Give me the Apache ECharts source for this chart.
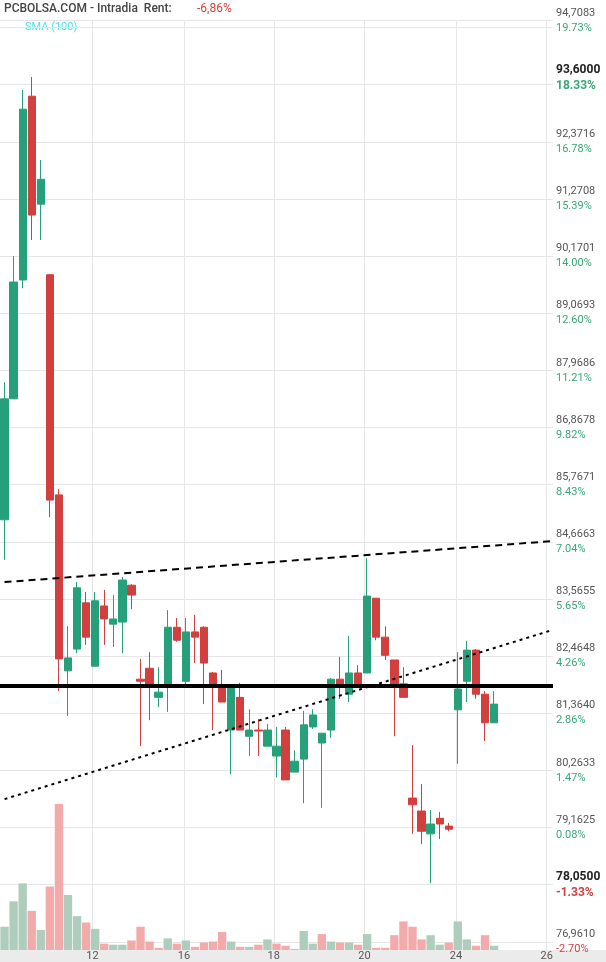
<!DOCTYPE html>
<html>
<head>
<meta charset="utf-8">
<script src="https://cdn.jsdelivr.net/npm/echarts@6/dist/echarts.min.js"></script>
<style>html,body{margin:0;padding:0;background:#fff}#main{width:606px;height:962px}</style>
</head>
<body>
<div id="main"></div>
<script>
// velas: apertura, cierre, minimo, maximo
var opens  = [85.09,87.42,89.71,93.25,91.17,89.81,85.57,82.18,82.60,83.49,82.27,83.43,83.08,83.12,83.83,82.02,82.23,81.67,81.91,83.02,81.98,82.93,83.02,82.14,81.87,81.04,81.67,80.92,81.04,80.73,80.54,81.04,80.23,80.48,81.10,80.79,81.04,82.02,81.73,82.14,82.14,83.58,82.83,82.39,81.93,79.73,79.48,79.04,79.34,79.19,81.43,81.98,82.58,81.73,81.18];
var closes = [87.42,89.67,93.00,90.96,91.65,85.47,82.41,82.43,83.78,82.83,83.53,83.18,83.18,83.93,83.64,81.98,81.91,81.77,83.02,82.77,82.93,82.83,82.33,81.91,81.58,81.87,81.04,81.04,81.02,81.04,80.73,80.08,80.44,81.14,81.33,80.98,82.02,81.91,82.14,81.91,83.62,82.83,82.48,81.91,81.67,79.60,79.09,79.23,79.23,79.13,81.83,82.58,81.73,81.18,81.54];
var lows   = [84.32,87.42,89.55,90.48,90.48,85.14,81.79,81.31,82.52,82.68,82.27,82.68,82.64,82.52,83.37,80.73,81.23,81.48,81.39,82.74,81.91,82.33,81.54,81.04,81.58,80.19,81.04,80.54,80.54,80.73,80.13,80.08,80.23,79.63,81.06,79.54,80.89,81.64,81.58,81.91,82.14,82.77,82.39,80.92,81.67,79.04,78.84,78.09,78.94,79.09,80.39,81.58,81.64,80.83,81.18];
var highs  = [87.74,90.17,93.37,93.62,92.02,89.83,85.68,83.04,83.89,83.70,83.70,83.74,83.64,83.99,83.85,82.41,82.54,82.25,83.35,83.20,83.20,83.26,83.04,82.16,82.20,81.87,81.95,81.44,81.25,81.16,81.10,81.10,80.65,81.41,81.44,80.98,82.04,82.45,82.85,82.29,84.35,83.58,83.04,82.39,82.25,80.75,80.00,79.50,79.46,79.25,82.54,82.76,82.60,81.79,81.79];
var volumes = [66,138,189,111,57,180,414,156,96,78,60,18,15,15,27,66,24,6,33,18,27,9,21,24,51,24,9,9,15,30,18,12,3,54,18,45,24,21,21,15,45,6,6,42,81,66,30,42,15,21,81,30,12,42,12];
var volUp   = [1,1,1,0,1,0,0,1,1,0,1,0,1,1,0,0,0,0,1,0,1,0,0,0,0,1,0,1,0,1,0,0,1,1,1,0,1,0,1,0,1,0,0,0,0,0,0,1,1,0,1,1,0,0,1];

var nSlots = 61;
var dayLabels = ['12','16','18','20','24','26'];
var dayPos = [10.2,20.3,30.2,40.2,50.3,60.3];

var priceMin = 76.961, priceMax = 94.7083, priceStep = 1.100757;
var basePrice = 79.099;
var highMark = 93.6, lowMark = 78.05;
var supportLevel = 81.89;
var upperTrend = [[0.5,83.89],[61,84.68]];
var lowerTrend = [[0.5,79.71],[61,82.97]];

var GREEN = '#26a07a', RED = '#d23f3f';

var cats = [];
for (var i = 0; i < nSlots; i++) cats.push(i);
var candles = [];
for (var i = 0; i < opens.length; i++) candles.push([opens[i], closes[i], lows[i], highs[i]]);
var vols = [];
for (var i = 0; i < volumes.length; i++) {
	vols.push({ value: volumes[i], itemStyle: { color: volUp[i] ? '#aecdbd' : '#f3aaaa' } });
}

function fmtPrice(v) { return v.toFixed(4).replace('.', ','); }
function pct(v) { return ((v / basePrice - 1) * 100).toFixed(2) + '%'; }

var chart = echarts.init(document.getElementById('main'));
chart.setOption({
	animation: false,
	backgroundColor: '#fff',
	textStyle: { fontFamily: 'Roboto' },
	graphic: [
		{ type: 'rect', left: 0, bottom: 0, shape: { width: 606, height: 12 }, style: { fill: '#ebebeb' }, z: -1 },
		{ type: 'text', left: 4, top: 3, style: { text: 'PCBOLSA.COM - Intradia  Rent:', fill: '#444', font: '500 12px Roboto' } },
		{ type: 'text', left: 197, top: 3, style: { text: '-6,86%', fill: '#d23f3f', font: '12px Roboto' } },
		{ type: 'text', left: 25, top: 22, style: { text: 'SMA (100)', fill: '#4fe0e8', font: '11px Roboto' } }
	],
	grid: [
		{ left: 0, right: 53, top: 20.5, bottom: 20.2 },
		{ left: 0, right: 53, top: 804, bottom: 12 }
	],
	xAxis: [
		{ type: 'category', data: cats, gridIndex: 0, boundaryGap: true, show: false },
		{ type: 'value', gridIndex: 0, min: 0, max: nSlots, position: 'bottom', axisLine: { show: false }, axisLabel: { show: false },
		  axisTick: { show: false, customValues: dayPos }, splitLine: { show: true, lineStyle: { color: '#e6e6e6' } } },
		{ type: 'category', data: cats, gridIndex: 1, boundaryGap: true, show: false },
		{ type: 'value', gridIndex: 1, min: 0, max: nSlots, position: 'bottom', axisLine: { show: false, onZero: false },
		  axisTick: { show: false, customValues: dayPos },
		  axisLabel: { customValues: dayPos, color: '#555', fontSize: 11, margin: 1,
			formatter: function(v) { var k = dayPos.indexOf(v); return k >= 0 ? dayLabels[k] : ''; } },
		  splitLine: { show: true, lineStyle: { color: '#e6e6e6' } } }
	],
	yAxis: [
		{ type: 'value', gridIndex: 0, position: 'right', min: priceMin, max: priceMax, interval: priceStep, scale: true,
		  axisLine: { show: false }, axisTick: { show: false },
		  splitLine: { lineStyle: { color: '#e6e6e6' } },
		  axisLabel: { margin: 3, showMaxLabel: true, lineHeight: 15,
			formatter: function(v) {
				if (Math.abs(v - highMark) < 0.3 || Math.abs(v - lowMark) < 0.3) return '';
				var p = (v / basePrice - 1) * 100;
				return '{p|' + fmtPrice(v) + '}\n{' + (p < 0 ? 'n' : 'g') + '|' + pct(v) + '}';
			},
			rich: { p: { color: '#555', fontSize: 11 }, g: { color: '#3aa776', fontSize: 11 }, n: { color: '#d23f3f', fontSize: 11 } } } },
		{ type: 'value', gridIndex: 1, show: false, min: 0, max: 414, splitLine: { show: false } }
	],
	series: [
		{ type: 'candlestick', xAxisIndex: 0, yAxisIndex: 0, data: candles, barWidth: '86%',
		  itemStyle: { color: GREEN, color0: RED, borderColor: GREEN, borderColor0: RED, borderWidth: 1 } },
		{ type: 'line', xAxisIndex: 1, yAxisIndex: 0, data: upperTrend, symbol: 'none', silent: true,
		  lineStyle: { color: '#000', width: 2, type: [7, 5] } },
		{ type: 'line', xAxisIndex: 1, yAxisIndex: 0, data: lowerTrend, symbol: 'none', silent: true,
		  lineStyle: { color: '#000', width: 2, type: [3, 4] } },
		{ type: 'line', xAxisIndex: 1, yAxisIndex: 0, data: [[0, supportLevel], [nSlots, supportLevel]], symbol: 'none', silent: true,
		  lineStyle: { color: '#000', width: 4 }, z: 5,
		  markLine: { symbol: 'none', silent: true, animation: false, lineStyle: { color: 'rgba(0,0,0,0)', width: 1, type: 'solid' },
			label: { show: true, position: 'end', distance: 3, lineHeight: 16, formatter: function(pr) {
				var v = pr.data.yAxis; var p = (v / basePrice - 1) * 100;
				return '{b|' + fmtPrice(v) + '}\n{' + (p < 0 ? 'n' : 'g') + '|' + pct(v) + '}';
			}, rich: { b: { color: '#222', fontSize: 12, fontWeight: 'bold' }, g: { color: '#3aa776', fontSize: 12, fontWeight: 'bold' }, n: { color: '#d23f3f', fontSize: 12, fontWeight: 'bold' } } },
			data: [{ yAxis: highMark }, { yAxis: lowMark }] } },
		{ type: 'bar', xAxisIndex: 2, yAxisIndex: 1, data: vols, barWidth: '92%', z: 1 }
	]
});
</script>
</body>
</html>
